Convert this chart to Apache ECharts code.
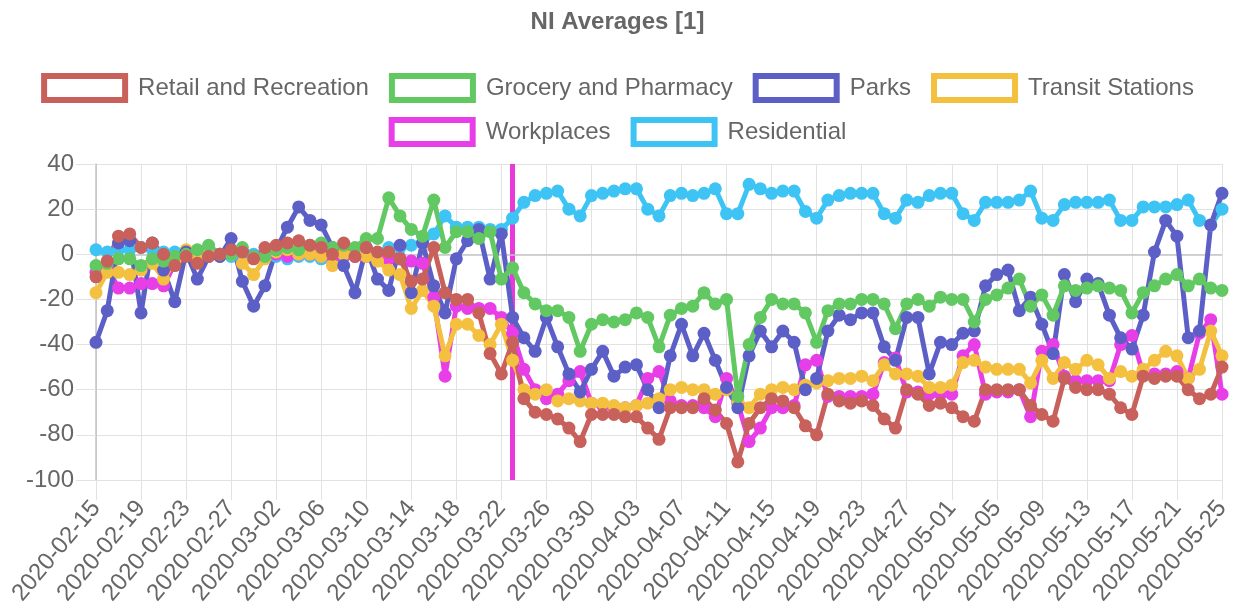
<!DOCTYPE html>
<html>
<head>
<meta charset="utf-8">
<script src="https://cdn.jsdelivr.net/npm/echarts@6/dist/echarts.min.js"></script>
<style>
html,body{margin:0;padding:0;background:#fff;}
#chart{width:1235px;height:608px;}
</style>
</head>
<body>
<div id="chart"></div>
<script>
const dates = [
"2020-02-15","2020-02-16","2020-02-17","2020-02-18","2020-02-19","2020-02-20","2020-02-21","2020-02-22","2020-02-23","2020-02-24","2020-02-25","2020-02-26","2020-02-27","2020-02-28","2020-02-29",
"2020-03-01","2020-03-02","2020-03-03","2020-03-04","2020-03-05","2020-03-06","2020-03-07","2020-03-08","2020-03-09","2020-03-10","2020-03-11","2020-03-12","2020-03-13","2020-03-14","2020-03-15","2020-03-16","2020-03-17","2020-03-18","2020-03-19","2020-03-20","2020-03-21","2020-03-22","2020-03-23","2020-03-24","2020-03-25","2020-03-26","2020-03-27","2020-03-28","2020-03-29","2020-03-30","2020-03-31",
"2020-04-01","2020-04-02","2020-04-03","2020-04-04","2020-04-05","2020-04-06","2020-04-07","2020-04-08","2020-04-09","2020-04-10","2020-04-11","2020-04-12","2020-04-13","2020-04-14","2020-04-15","2020-04-16","2020-04-17","2020-04-18","2020-04-19","2020-04-20","2020-04-21","2020-04-22","2020-04-23","2020-04-24","2020-04-25","2020-04-26","2020-04-27","2020-04-28","2020-04-29","2020-04-30",
"2020-05-01","2020-05-02","2020-05-03","2020-05-04","2020-05-05","2020-05-06","2020-05-07","2020-05-08","2020-05-09","2020-05-10","2020-05-11","2020-05-12","2020-05-13","2020-05-14","2020-05-15","2020-05-16","2020-05-17","2020-05-18","2020-05-19","2020-05-20","2020-05-21","2020-05-22","2020-05-23","2020-05-24","2020-05-25"
];

const retail = [
-10,-3,8,9,3,5,0,-5,-1,-4,-1,0,2,1,-2,
3,4,5,6,4,3,0,5,-1,3,1,1,-2,-12,-11,3,-17,-20,-20,-26,-44,-53,-39,-64,-70,-71,-73,-77,-83,-71,-71,
-71,-72,-72,-77,-82,-68,-68,-68,-64,-69,-75,-92,-75,-68,-64,-65,-68,-76,-80,-62,-65,-66,-65,-67,-73,-77,-60,-62,-67,-66,
-68,-72,-74,-60,-60,-60,-60,-67,-71,-74,-55,-59,-60,-60,-62,-68,-71,-54,-55,-54,-54,-60,-64,-62,-50
];

const grocery = [
-5,-4,-2,-2,-5,-2,-3,-1,0,2,4,0,0,3,-1,
-1,2,3,2,4,5,3,4,3,7,7,25,17,11,8,24,3,10,10,7,10,-11,-6,-17,-22,-25,-25,-28,-43,-31,-29,
-30,-29,-26,-28,-41,-27,-24,-23,-17,-22,-20,-63,-40,-28,-20,-22,-22,-26,-39,-25,-22,-22,-20,-20,-22,-33,-22,-20,-23,-19,
-20,-20,-30,-20,-18,-15,-11,-23,-18,-27,-14,-16,-15,-14,-15,-16,-26,-17,-14,-11,-9,-14,-11,-15,-16
];

const parks = [
-39,-25,5,6,-26,5,-7,-21,1,-11,-1,-1,7,-12,-23,
-14,2,12,21,15,13,3,-5,-17,3,-11,-16,4,-17,5,-14,-26,-2,6,11,-11,9,-28,-37,-43,-28,-41,-53,-61,-51,-43,
-54,-50,-49,-60,-68,-45,-31,-45,-35,-47,-59,-68,-45,-34,-41,-34,-39,-60,-55,-34,-27,-29,-26,-26,-41,-47,-28,-28,-53,-39,
-40,-35,-34,-14,-9,-7,-25,-19,-31,-44,-9,-21,-11,-13,-27,-37,-42,-27,1,15,8,-37,-34,13,27
];

const transit = [
-17,-8,-8,-9,-7,-4,-11,-3,2,-1,0,-1,0,-4,-9,
-2,1,2,0,0,-1,-5,0,0,-1,-3,-7,-9,-24,-16,-23,-45,-31,-31,-36,-40,-31,-47,-60,-62,-60,-65,-64,-65,-66,-66,
-67,-68,-67,-66,-64,-60,-59,-60,-60,-62,-60,-65,-68,-62,-60,-59,-60,-58,-57,-56,-55,-55,-54,-56,-49,-53,-53,-54,-59,-59,
-58,-48,-47,-50,-51,-51,-51,-57,-47,-55,-48,-51,-47,-49,-55,-52,-54,-51,-47,-43,-45,-55,-51,-34,-45
];

const workplaces = [
-8,-6,-15,-15,-13,-13,-14,-4,0,0,0,0,1,1,-1,
0,0,-1,0,0,-1,-1,-1,-1,-1,-1,-2,-2,-3,-4,-19,-54,-23,-24,-24,-24,-28,-35,-51,-60,-64,-62,-56,-52,-66,-67,
-68,-68,-67,-55,-52,-65,-67,-67,-68,-72,-55,-66,-83,-77,-68,-68,-67,-49,-47,-63,-63,-63,-63,-62,-48,-46,-61,-61,-62,-62,
-62,-45,-40,-62,-61,-61,-60,-72,-43,-40,-54,-56,-56,-56,-56,-40,-36,-53,-53,-53,-52,-55,-35,-29,-62
];

const residential = [
2,1,2,2,3,2,1,1,0,0,1,0,-1,0,0,
-1,-1,-2,-1,-1,-2,-1,-1,0,0,0,3,3,4,5,9,17,12,12,12,11,11,16,23,26,27,28,20,17,26,27,
28,29,29,20,17,26,27,26,27,29,18,18,31,29,27,28,28,19,16,24,26,27,27,27,18,16,24,23,26,27,
27,18,15,23,23,23,24,28,16,15,22,23,23,23,24,15,15,21,21,21,22,24,15,13,20
];

const yTicks = { min: -100, max: 40, interval: 20 };
const lockdownDate = "2020-03-23";

const names = ["Retail and Recreation","Grocery and Pharmacy","Parks","Transit Stations","Workplaces","Residential"];
const colors = ["#c8605b","#62c862","#5c5fc6","#f4c040","#e83ee8","#3ec4f4"];
const values = [retail, grocery, parks, transit, workplaces, residential];

const FONT = '"Liberation Sans", Arial, Helvetica, sans-serif';
const TXT = '#666';
const GRID = '#e2e2e2';

const series = [];
for (let i = values.length - 1; i >= 0; i--) {
  const s = {
    name: names[i],
    type: 'line',
    data: values[i],
    symbol: 'circle',
    symbolSize: 13,
    showSymbol: true,
    showAllSymbol: true,
    lineStyle: { width: 5, color: colors[i] },
    itemStyle: { color: colors[i], borderColor: colors[i], borderWidth: 0 },
    emphasis: { disabled: true },
    animation: false
  };
  if (i === values.length - 1) {
    s.markLine = {
      silent: true,
      symbol: ['none', 'none'],
      z: 1,
      label: { show: false },
      data: [
        { xAxis: lockdownDate, lineStyle: { color: '#e73ad9', width: 5, type: 'solid' } },
        { yAxis: 0, lineStyle: { color: '#c4c4c4', width: 1.5, type: 'solid' } }
      ]
    };
  }
  series.push(s);
}

function legendData(list) {
  return list.map(n => {
    const c = colors[names.indexOf(n)];
    return { name: n, icon: 'rect', itemStyle: { color: '#fff', borderColor: c, borderWidth: 6 } };
  });
}

const legendCommon = {
  left: 'center',
  padding: 0,
  itemWidth: 81,
  itemHeight: 24,
  itemGap: 20,
  selectedMode: false,
  textStyle: { fontSize: 24, color: TXT, fontFamily: FONT, padding: [0, 0, 0, 8] }
};

const option = {
  animation: false,
  backgroundColor: '#fff',
  title: {
    text: 'NI Averages [1]',
    left: 'center',
    top: 5,
    textStyle: { fontSize: 24, fontWeight: 'bold', color: TXT, fontFamily: FONT }
  },
  legend: [
    Object.assign({}, legendCommon, { top: 73, data: legendData(names.slice(0, 4)) }),
    Object.assign({}, legendCommon, { top: 117, data: legendData(names.slice(4)) })
  ],
  grid: { left: 96, right: 13, top: 164, bottom: 127, containLabel: false },
  xAxis: {
    type: 'category',
    data: dates,
    boundaryGap: false,
    axisLine: { show: true, onZero: false, lineStyle: { color: GRID, width: 1 } },
    axisTick: { show: true, interval: 3, length: 20, lineStyle: { color: GRID } },
    splitLine: { show: true, interval: 3, lineStyle: { color: GRID, width: 1 } },
    axisLabel: { interval: 3, rotate: 50, fontSize: 24, color: TXT, fontFamily: FONT, margin: 24 }
  },
  yAxis: {
    type: 'value',
    min: yTicks.min,
    max: yTicks.max,
    interval: yTicks.interval,
    axisLine: { show: true, lineStyle: { color: '#c0c0c0', width: 1.5 } },
    axisTick: { show: true, length: 20, lineStyle: { color: GRID } },
    splitLine: { show: true, lineStyle: { color: GRID, width: 1 } },
    axisLabel: { fontSize: 24, color: TXT, fontFamily: FONT, margin: 22 }
  },
  series: series
};

const chart = echarts.init(document.getElementById('chart'), null, { renderer: 'canvas' });
chart.setOption(option);
</script>
</body>
</html>
